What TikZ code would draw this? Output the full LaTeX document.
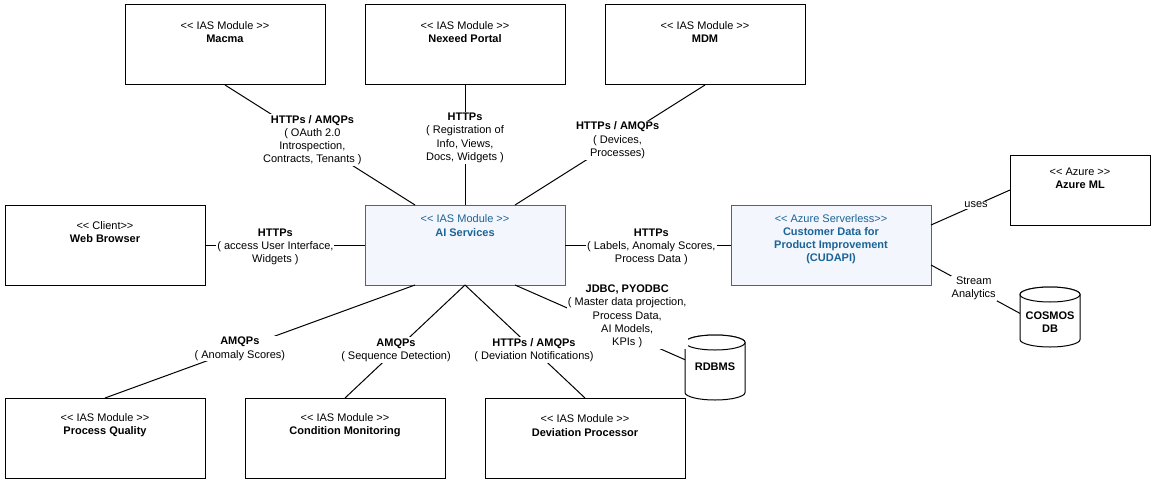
\documentclass[tikz,border=0pt]{standalone}
\usepackage{fontspec}
\setmainfont{Liberation Sans}
\usetikzlibrary{calc}
\definecolor{aitext}{HTML}{1A6496}
\definecolor{aifill}{HTML}{F4F6FE}
\definecolor{aiborder}{HTML}{336C9A}
\newcommand\ltlt{<\kern0pt<}
\newcommand\gtgt{>\kern0pt>}
\begin{document}
\begin{tikzpicture}[x=0.75pt,y=-0.75pt,
  every node/.style={font=\fontsize{8.25pt}{9.9pt}\selectfont},
  box/.style={draw=black, line width=0.75pt, minimum width=150pt, minimum height=60pt, inner sep=0pt, outer sep=0pt},
  hibox/.style={box, draw=aiborder, fill=aifill},
  smallbox/.style={box, minimum width=105pt, minimum height=52.5pt},
  btext/.style={align=center, inner sep=0pt},
  hitext/.style={btext, text=aitext},
  cylnode/.style={minimum width=45pt, minimum height=48.75pt, inner sep=0pt, outer sep=0pt, align=center, font=\fontsize{8.25pt}{9.9pt}\selectfont\bfseries},
  cyl/.style={draw=black, line width=0.75pt, fill=white},
  conn/.style={draw=black, line width=0.75pt},
  lbl/.style={fill=white, align=center, inner sep=0.75pt}
]
\useasboundingbox (0,0) rectangle (1156,485);

% boxes
\node[box] (macma) at (225,45) {};
\node[box] (nexeed) at (465,45) {};
\node[box] (mdm) at (705,45) {};
\node[box] (web) at (105,245) {};
\node[hibox] (ai) at (465,245) {};
\node[hibox] (cud) at (831,245) {};
\node[smallbox] (azure) at (1080,190) {};
\node[box] (pq) at (105,438) {};
\node[box] (cm) at (345,438) {};
\node[box] (dp) at (585,438) {};

% box texts
\node[btext] (macma-t) at ($(macma.north)+(0,27)$) {\ltlt{} IAS Module \gtgt\\\textbf{Macma}};
\node[btext] (nexeed-t) at ($(nexeed.north)+(0,27)$) {\ltlt{} IAS Module \gtgt\\\textbf{Nexeed Portal}};
\node[btext] (mdm-t) at ($(mdm.north)+(0,27)$) {\ltlt{} IAS Module \gtgt\\\textbf{MDM}};
\node[btext] (web-t) at ($(web.north)+(0,27)$) {\ltlt{} Client\gtgt\\\textbf{Web Browser}};
\node[hitext] (ai-t) at ($(ai.north)+(0,20.5)$) {\ltlt{} IAS Module \gtgt\\\textbf{AI Services}};
\node[hitext] (cud-t) at ($(cud.north)+(0,34)$) {\ltlt{} Azure Serverless\gtgt\\\textbf{Customer Data for}\\\textbf{Product Improvement}\\\textbf{(CUDAPI)}};
\node[btext] (azure-t) at ($(azure.north)+(0,23)$) {\ltlt{} Azure \gtgt\\\textbf{Azure ML}};
\node[btext] (pq-t) at ($(pq.north)+(0,27.5)$) {\ltlt{} IAS Module \gtgt\\\textbf{Process Quality}};
\node[btext] (cm-t) at ($(cm.north)+(0,27.5)$) {\ltlt{} IAS Module \gtgt\\\textbf{Condition Monitoring}};
\node[btext] (dp-t) at ($(dp.north)+(0,27.5)$) {\ltlt{} IAS Module \gtgt\\\textbf{Deviation Processor}};

% cylinders
\node[cylnode] (rdbms) at (715,367.5) {};
\draw[cyl] ($(rdbms.north west)+(0,7.5)$) -- ($(rdbms.south west)+(0,-7.5)$)
  arc[start angle=180, end angle=360, x radius=22.5pt, y radius=5.625pt]
  -- ($(rdbms.north east)+(0,7.5)$)
  arc[start angle=0, end angle=180, x radius=22.5pt, y radius=5.625pt] -- cycle;
\draw[cyl] ($(rdbms.north)+(0,7.5)$) ellipse[x radius=22.5pt, y radius=5.625pt];
\node[cylnode] (rdbms-t) at (715,367) {RDBMS};

\node[cylnode, minimum height=45pt] (cosmos) at (1050,317) {};
\draw[cyl] ($(cosmos.north west)+(0,7.5)$) -- ($(cosmos.south west)+(0,-7.5)$)
  arc[start angle=180, end angle=360, x radius=22.5pt, y radius=5.625pt]
  -- ($(cosmos.north east)+(0,7.5)$)
  arc[start angle=0, end angle=180, x radius=22.5pt, y radius=5.625pt] -- cycle;
\draw[cyl] ($(cosmos.north)+(0,7.5)$) ellipse[x radius=22.5pt, y radius=5.625pt];
\node[cylnode] (cosmos-t) at (1050,322) {COSMOS\\DB};

% connectors
\draw[conn] (macma.south) -- ($(ai.north west)!0.25!(ai.north east)$)
  node[lbl, pos=0.46] (l1) {\textbf{HTTPs / AMQPs}\\( OAuth 2.0\\Introspection,\\Contracts, Tenants )};
\draw[conn] (nexeed.south) -- (ai.north)
  node[lbl, pos=0.44] (l2) {\textbf{HTTPs}\\( Registration of\\Info, Views,\\Docs, Widgets )};
\draw[conn] (mdm.south) -- ($(ai.north west)!0.75!(ai.north east)$)
  node[lbl, pos=0.46] (l3) {\textbf{HTTPs / AMQPs}\\( Devices,\\Processes)};
\draw[conn] (web.east) -- (ai.west)
  node[lbl, pos=0.44, yshift=-1.5pt] (l4) {\textbf{HTTPs}\\( access User Interface,\\Widgets )};
\draw[conn] (ai.east) -- (cud.west)
  node[lbl, pos=0.52, yshift=-1.5pt] (l5) {\textbf{HTTPs}\\( Labels, Anomaly Scores,\\Process Data )};
\draw[conn] ($(cud.north east)!0.25!(cud.south east)$) -- (azure.west)
  node[lbl, pos=0.57] (l6) {uses};
\draw[conn] ($(cud.north east)!0.75!(cud.south east)$) -- ($(cosmos.north west)!0.44!(cosmos.south west)$)
  node[lbl, pos=0.48] (l7) {Stream\\Analytics};
\draw[conn] ($(ai.south west)!0.75!(ai.south east)$) -- ($(rdbms.north west)!0.38!(rdbms.south west)$)
  node[lbl, pos=0.66, yshift=13.5pt] (l11) {\textbf{JDBC, PYODBC}\\( Master data projection,\\Process Data,\\AI Models,\\KPIs )};
\draw[conn] ($(ai.south west)!0.25!(ai.south east)$) -- (pq.north)
  node[lbl, pos=0.565] (l8) {\textbf{AMQPs}\\( Anomaly Scores)};
\draw[conn] (ai.south) -- (cm.north)
  node[lbl, pos=0.575] (l9) {\textbf{AMQPs}\\( Sequence Detection)};
\draw[conn] (ai.south) -- (dp.north)
  node[lbl, pos=0.575] (l10) {\textbf{HTTPs / AMQPs}\\( Deviation Notifications)};
\end{tikzpicture}
\end{document}
